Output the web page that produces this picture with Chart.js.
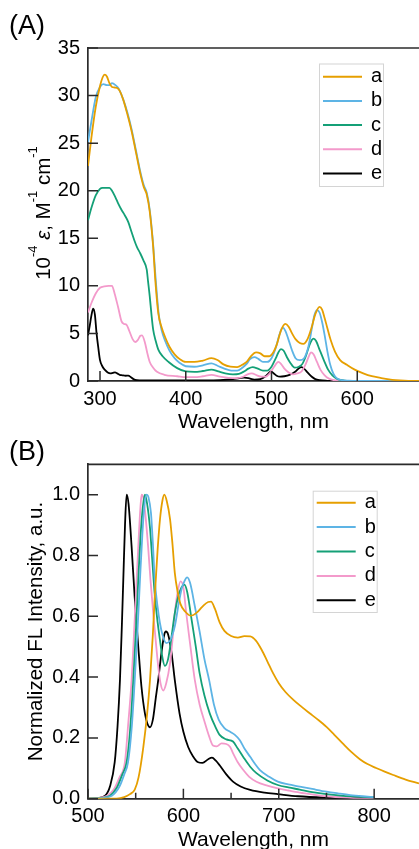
<!DOCTYPE html>
<html>
<head>
<meta charset="utf-8">
<script src="https://cdn.jsdelivr.net/npm/chart.js@4.4.1/dist/chart.umd.min.js"></script>
<style>
  html, body { margin: 0; padding: 0; background: #fff; }
  #wrap { position: relative; width: 419px; height: 849px; overflow: hidden; }
  .panel { position: absolute; left: 0; width: 419px; }
  #pa { top: 0; height: 445px; }
  #pb { top: 430px; height: 419px; }
</style>
</head>
<body>
<div id="wrap">
  <div class="panel" id="pa"><canvas id="chartA"></canvas></div>
  <div class="panel" id="pb"><canvas id="chartB"></canvas></div>
</div>
<script>
// ---- series shared by both panels ----
const seriesNames  = ['a', 'b', 'c', 'd', 'e'];
const seriesColors = ['#E69F00', '#5DB4E5', '#14A077', '#F39ACB', '#000000'];

// ---- (A) absorption: [wavelength nm, 10^-4 epsilon] ----
const absXTicks = [300, 400, 500, 600];
const absYTicks = [0, 5, 10, 15, 20, 25, 30, 35];
const absYLabels = ['0', '5', '10', '15', '20', '25', '30', '35'];

const absA = [[286,22.6],[290,25.6],[295,28.8],[300,31.0],[303,31.9],[305.5,32.2],[308,32.0],[311,31.3],[314,30.9],[317,30.85],[320,30.8],[323,30.5],[327,29.6],[332,28.0],[337,26.2],[342,24.0],[347,21.8],[351,20.4],[354.5,19.6],[358,17.8],[362,14.1],[364.5,10.6],[368,7.1],[372,5.6],[376,4.6],[381,3.6],[387,2.8],[393,2.3],[400,2.0],[410,2.0],[420,2.15],[430,2.4],[437,2.2],[444,1.75],[452,1.5],[460,1.45],[466,1.7],[471,2.0],[476,2.6],[482,3.0],[487,2.9],[492,2.6],[497,2.6],[502,3.0],[506,3.8],[511,5.3],[516,6.0],[520,5.7],[524,5.0],[528,4.4],[533,4.0],[537,3.9],[542,4.4],[547,5.7],[551,7.0],[556,7.8],[559,7.5],[562,6.6],[565,5.6],[569,4.3],[574,3.1],[580,2.2],[588,1.7],[597,1.2],[607,0.8],[617,0.5],[627,0.33],[637,0.18],[645,0.1],[655,0.04],[672,0.0]];
const absB = [[286,25.1],[290,27.3],[295,29.8],[300,30.9],[304,31.2],[308,31.1],[311,31.1],[314,31.3],[318,31.1],[322,30.7],[327,29.6],[332,28.2],[337,26.4],[342,24.2],[347,22.0],[351,20.6],[354.5,19.8],[358,18.0],[362,14.3],[365,10.6],[368.5,7.0],[372,5.3],[376,4.2],[381,3.2],[387,2.4],[393,1.9],[400,1.55],[410,1.5],[420,1.65],[430,1.85],[437,1.6],[445,1.3],[453,1.1],[460,1.1],[466,1.4],[471,1.8],[475,2.3],[480,2.5],[485,2.3],[490,2.0],[495,2.0],[500,2.4],[505,3.5],[509,4.8],[513,5.6],[516,5.3],[520,4.3],[524,3.2],[528,2.4],[533,2.2],[538,2.4],[543,3.6],[547,5.5],[550,6.9],[553,7.45],[556,7.2],[559,6.2],[562,4.8],[565,3.2],[568.5,1.7],[572,0.8],[576,0.3],[582,0.1],[590,0.03],[600,0.0],[672,0.0]];
const absC = [[286,16.9],[290,18.2],[295,19.5],[300,20.2],[303,20.3],[307,20.3],[311,20.3],[314,20.0],[318,19.3],[321,18.7],[325,18.0],[329,17.4],[333,16.7],[337,15.6],[340,14.8],[343,14.1],[347,13.4],[350.5,12.7],[354.5,11.7],[356,10.5],[358,8.9],[360,7.0],[362,5.4],[365,4.2],[368,3.3],[373,2.6],[380,2.0],[390,1.35],[400,1.0],[410,0.95],[420,1.05],[430,1.2],[438,1.0],[446,0.8],[455,0.7],[462,0.75],[468,1.0],[473,1.3],[478,1.45],[484,1.3],[490,1.1],[495,1.1],[500,1.5],[505,2.4],[508,3.0],[511,3.36],[514,3.2],[518,2.5],[522,1.9],[527,1.4],[532,1.5],[536,1.8],[540,2.6],[544,3.7],[547,4.3],[549,4.45],[552,4.2],[556,3.3],[561,2.2],[566,1.2],[571,0.6],[577,0.2],[585,0.05],[600,0.0],[672,0.0]];
const absD = [[286,7.2],[290,8.2],[295,9.2],[300,9.8],[305,9.95],[310,10.0],[314,10.0],[317,9.2],[321,7.8],[325,6.3],[328,6.0],[331,5.9],[334,5.3],[338,4.4],[341,4.1],[344,4.3],[347,4.75],[349,4.8],[352.5,4.0],[355,3.0],[358,2.0],[362,1.4],[366,1.0],[375,0.65],[390,0.5],[400,0.4],[410,0.4],[420,0.5],[430,0.65],[440,0.45],[450,0.32],[460,0.3],[467,0.45],[472,0.7],[477,0.8],[483,0.6],[488,0.45],[493,0.45],[498,0.8],[503,1.5],[508,2.0],[511,1.8],[515,1.3],[520,0.9],[525,0.7],[530,0.8],[535,1.0],[540,1.8],[544,2.7],[546,3.0],[549,2.8],[553,2.0],[557,1.2],[562,0.6],[567,0.25],[573,0.08],[580,0.02],[600,0.0],[672,0.0]];
const absE = [[286,4.8],[288,5.8],[290,6.9],[292,7.6],[294,7.0],[296,5.0],[298,3.5],[300,2.2],[303,1.5],[306,1.15],[309,0.9],[312,0.8],[315,0.85],[317.5,0.9],[320,0.8],[323,0.65],[326,0.6],[330,0.55],[333,0.56],[336,0.4],[339,0.2],[343,0.08],[350,0.05],[400,0.05],[440,0.1],[455,0.2],[463,0.3],[468,0.35],[473,0.3],[480,0.15],[487,0.2],[493,0.5],[497,0.85],[499.5,1.0],[502,0.85],[506,0.55],[510,0.45],[515,0.5],[521,0.65],[528,1.0],[532,1.35],[535,1.45],[538,1.3],[542,0.9],[547,0.45],[551,0.2],[556,0.08],[565,0.02],[580,0.0],[672,0.0]];

// ---- (B) normalized fluorescence: [wavelength nm, intensity] ----
const flXTicks = [500, 600, 700, 800];
const flXMinor = [550, 650, 750];
const flYTicks = [0, 0.2, 0.4, 0.6, 0.8, 1.0];
const flYLabels = ['0.0', '0.2', '0.4', '0.6', '0.8', '1.0'];

const flA = [[500,0],[530,0],[538,0.005],[544,0.015],[549,0.03],[553,0.07],[558,0.17],[562,0.28],[565,0.39],[568,0.54],[570,0.666],[573,0.82],[575.5,0.92],[578,0.98],[580,1.0],[582.5,0.98],[586,0.92],[588.5,0.84],[591,0.743],[594,0.68],[597,0.64],[602,0.615],[608,0.602],[614,0.612],[620,0.632],[626,0.647],[629,0.648],[633,0.625],[638,0.58],[643,0.552],[650,0.535],[657,0.53],[664,0.535],[670,0.534],[676,0.52],[682,0.49],[688,0.452],[694,0.413],[700,0.38],[707,0.351],[715,0.326],[724,0.302],[732,0.282],[741,0.26],[750,0.236],[758,0.211],[767,0.182],[776,0.154],[785,0.13],[793,0.114],[802,0.101],[811,0.089],[820,0.078],[833,0.063],[847,0.05]];
const flB = [[500,0],[515,0.003],[525,0.01],[533,0.04],[538,0.08],[542,0.12],[546,0.24],[549,0.39],[552,0.56],[554.5,0.72],[557,0.87],[559,0.96],[561.4,1.0],[563.5,0.99],[566,0.94],[568,0.84],[570,0.72],[573,0.63],[575.4,0.578],[578,0.54],[582,0.512],[586,0.52],[591,0.567],[595,0.64],[598,0.688],[601,0.715],[604,0.728],[607,0.71],[612,0.633],[617,0.55],[622,0.46],[627,0.39],[632,0.31],[637,0.26],[643,0.232],[649,0.22],[654,0.21],[659,0.193],[664,0.165],[670,0.138],[675,0.115],[680,0.095],[690,0.072],[699,0.056],[710,0.047],[722,0.04],[735,0.032],[750,0.023],[763,0.017],[775,0.012],[788,0.008],[800,0.005]];
const flC = [[500,0],[515,0.003],[523,0.01],[530,0.035],[536,0.08],[540.5,0.12],[544,0.22],[547.5,0.39],[550,0.54],[552.7,0.72],[555,0.86],[557.5,0.96],[559.7,1.0],[562,0.97],[565,0.89],[567.5,0.78],[570,0.67],[573,0.58],[575.4,0.523],[578,0.465],[580.6,0.437],[584,0.46],[587.6,0.534],[591,0.61],[594.6,0.666],[598,0.695],[601,0.704],[604,0.68],[608.6,0.589],[613,0.5],[617,0.413],[622,0.34],[627.7,0.28],[633,0.24],[638,0.21],[645,0.195],[652,0.188],[657,0.165],[662.6,0.138],[670,0.105],[676.6,0.084],[688,0.06],[699,0.045],[710,0.037],[722,0.03],[735,0.022],[750,0.015],[765,0.01],[780,0.007],[800,0.004]];
const flD = [[500,0],[512,0.003],[520,0.01],[527,0.03],[533,0.07],[538.7,0.12],[542,0.24],[545.7,0.39],[548.5,0.56],[551,0.72],[553.5,0.88],[555,0.96],[556.2,1.0],[558,0.99],[560,0.94],[563,0.83],[565.5,0.72],[568.4,0.61],[571,0.52],[573.6,0.435],[576,0.38],[578.9,0.356],[582,0.38],[586,0.446],[588.5,0.52],[591,0.61],[594,0.68],[597,0.715],[600,0.695],[603,0.61],[607,0.51],[612,0.39],[617,0.31],[622.5,0.25],[627,0.205],[631,0.175],[635,0.172],[640,0.182],[645,0.18],[649,0.17],[652,0.15],[657,0.12],[662.6,0.095],[669,0.072],[676.6,0.056],[688,0.043],[699,0.034],[710,0.027],[722,0.02],[735,0.014],[750,0.008],[775,0.003],[800,0.0]];
const flE = [[500,0],[510,0.002],[518,0.01],[523,0.04],[528,0.12],[531,0.24],[533.5,0.39],[535.5,0.57],[537,0.72],[538.8,0.9],[540.5,1.0],[542.5,0.97],[545.7,0.83],[549,0.66],[552.7,0.5],[556,0.37],[559.7,0.28],[562.5,0.245],[565,0.235],[568,0.26],[571,0.33],[573.6,0.39],[577,0.48],[580,0.54],[581.7,0.55],[584,0.54],[587.6,0.48],[591,0.39],[596,0.28],[600,0.22],[605,0.17],[610,0.14],[615.5,0.12],[620,0.118],[626,0.13],[630,0.135],[634,0.125],[638,0.11],[645,0.08],[652,0.056],[660,0.04],[670,0.029],[685,0.02],[699,0.015],[720,0.008],[750,0.004],[800,0.002]];

// ---- drawing helpers ----
const FONT = "'Liberation Sans', Arial, Helvetica, sans-serif";
const AXIS = '#2b2b2b';

function fontOf(seg, size) {
  const s = seg.sup ? Math.round(size * 0.62) : size;
  return (seg.italic ? 'italic ' : '') + s + 'px ' + FONT;
}

// rotated (bottom-to-top) title made of plain / italic / superscript pieces
function drawRotatedRich(ctx, segs, baseX, centerY, size) {
  ctx.save();
  ctx.translate(baseX, centerY);
  ctx.rotate(-Math.PI / 2);
  ctx.fillStyle = '#000';
  ctx.textBaseline = 'alphabetic';
  ctx.textAlign = 'left';
  const widths = segs.map(s => { ctx.font = fontOf(s, size); return ctx.measureText(s.t).width; });
  let x = -widths.reduce((a, b) => a + b, 0) / 2;
  segs.forEach((s, i) => {
    ctx.font = fontOf(s, size);
    ctx.fillText(s.t, x, s.sup ? -size * 0.62 : 0);
    x += widths[i];
  });
  ctx.restore();
}

function framePlugin(cfg) {
  return {
    id: 'frame' + cfg.panel,
    afterDatasetsDraw(chart) {
      const ctx = chart.ctx, a = chart.chartArea;
      const xs = chart.scales.x, ys = chart.scales.y;
      ctx.save();
      ctx.strokeStyle = AXIS;
      ctx.lineWidth = 1.7;
      // top edge of the frame
      ctx.beginPath();
      ctx.moveTo(a.left, a.top);
      ctx.lineTo(a.right, a.top);
      ctx.stroke();
      // inward tick marks
      ctx.lineWidth = 1.5;
      ctx.beginPath();
      cfg.xTicks.forEach(v => { const p = xs.getPixelForValue(v); ctx.moveTo(p, a.bottom); ctx.lineTo(p, a.bottom - 10); });
      (cfg.xMinor || []).forEach(v => { const p = xs.getPixelForValue(v); ctx.moveTo(p, a.bottom); ctx.lineTo(p, a.bottom - 6); });
      cfg.yTicks.forEach(v => { const p = ys.getPixelForValue(v); ctx.moveTo(a.left, p); ctx.lineTo(a.left + 10, p); });
      ctx.stroke();
      ctx.restore();
    },
    afterDraw(chart) {
      const ctx = chart.ctx, a = chart.chartArea;
      ctx.save();
      ctx.fillStyle = '#000';
      // panel letter
      ctx.font = '27px ' + FONT;
      ctx.textAlign = 'left';
      ctx.textBaseline = 'alphabetic';
      ctx.fillText('(' + cfg.panel + ')', 9, cfg.panelBase);
      // x title
      ctx.font = '21px ' + FONT;
      ctx.textAlign = 'center';
      ctx.fillText(cfg.xTitle, (a.left + a.right) / 2, cfg.xTitleBase);
      // y title
      drawRotatedRich(ctx, cfg.yTitle, cfg.yTitleX, cfg.yTitleY, 20.5);
      // legend
      const L = cfg.legend;
      const bx = a.left + L.dx, by = a.top + L.dy;
      ctx.fillStyle = '#fff';
      ctx.fillRect(bx, by, L.w, L.h);
      ctx.strokeStyle = '#d4d4d4';
      ctx.lineWidth = 1;
      ctx.strokeRect(bx + 0.5, by + 0.5, L.w, L.h);
      ctx.font = '20px ' + FONT;
      ctx.textAlign = 'left';
      seriesNames.forEach((n, i) => {
        const y = by + L.first + i * L.step;
        ctx.strokeStyle = seriesColors[i];
        ctx.lineWidth = 2;
        ctx.beginPath();
        ctx.moveTo(bx + 4, y);
        ctx.lineTo(bx + 43, y);
        ctx.stroke();
        ctx.fillStyle = '#000';
        ctx.fillText(n, bx + 52, y + 5.5);
      });
      ctx.restore();
    }
  };
}

function makeChart(id, cfg) {
  const datasets = cfg.series.map((pts, i) => ({
    label: seriesNames[i],
    data: pts.map(p => ({ x: p[0], y: p[1] })),
    borderColor: seriesColors[i],
    borderWidth: 1.8,
    pointRadius: 0,
    fill: false,
    cubicInterpolationMode: 'monotone'
  }));
  const tickFont = { family: FONT, size: 20 };
  return new Chart(document.getElementById(id), {
    type: 'line',
    data: { datasets },
    options: {
      responsive: true,
      maintainAspectRatio: false,
      animation: false,
      devicePixelRatio: 1,
      events: [],
      layout: { padding: { top: cfg.top, left: 0, right: 0, bottom: 0 } },
      plugins: { legend: { display: false }, tooltip: { enabled: false } },
      scales: {
        x: {
          type: 'linear', min: cfg.xMin, max: cfg.xMax,
          afterBuildTicks: s => { s.ticks = cfg.xTicks.map(v => ({ value: v })); },
          afterFit: s => { s.height = cfg.xAxisH; },
          grid: { display: false, drawTicks: false },
          border: { display: true, color: AXIS, width: 1.7 },
          ticks: { font: tickFont, color: '#000', padding: 6, maxRotation: 0, autoSkip: false,
                   callback: v => String(v) }
        },
        y: {
          type: 'linear', min: cfg.yMin, max: cfg.yMax,
          afterBuildTicks: s => { s.ticks = cfg.yTicks.map(v => ({ value: v })); },
          afterFit: s => { s.width = 88; },
          grid: { display: false, drawTicks: false },
          border: { display: true, color: AXIS, width: 1.7 },
          ticks: { font: tickFont, color: '#000', padding: 8, autoSkip: false,
                   callback: (v, i) => cfg.yLabels[i] }
        }
      }
    },
    plugins: [framePlugin(cfg)]
  });
}

makeChart('chartA', {
  panel: 'A', panelBase: 34, top: 48, xAxisH: 64,
  xMin: 286, xMax: 672, yMin: 0, yMax: 35,
  xTicks: absXTicks, yTicks: absYTicks, yLabels: absYLabels,
  series: [absA, absB, absC, absD, absE],
  xTitle: 'Wavelength, nm', xTitleBase: 428,
  yTitle: [{ t: '10' }, { t: '-4', sup: true }, { t: ' ' }, { t: '\u03B5', italic: true }, { t: ', M' },
           { t: '-1', sup: true }, { t: ' cm' }, { t: '-1', sup: true }],
  yTitleX: 50, yTitleY: 213,
  legend: { dx: 231, dy: 15.5, w: 64, h: 122.5, first: 13.3, step: 24.15 }
});

makeChart('chartB', {
  panel: 'B', panelBase: 30, top: 34.3, xAxisH: 50.3,
  xMin: 500, xMax: 847, yMin: 0, yMax: 1.1,
  xTicks: flXTicks, xMinor: flXMinor, yTicks: flYTicks, yLabels: flYLabels,
  series: [flA, flB, flC, flD, flE],
  xTitle: 'Wavelength, nm', xTitleBase: 416,
  yTitle: [{ t: 'Normalized FL Intensity, a.u.' }],
  yTitleX: 42, yTitleY: 201.5,
  legend: { dx: 224.7, dy: 26.4, w: 64, h: 121.3, first: 12, step: 24.4 }
});
</script>
</body>
</html>
